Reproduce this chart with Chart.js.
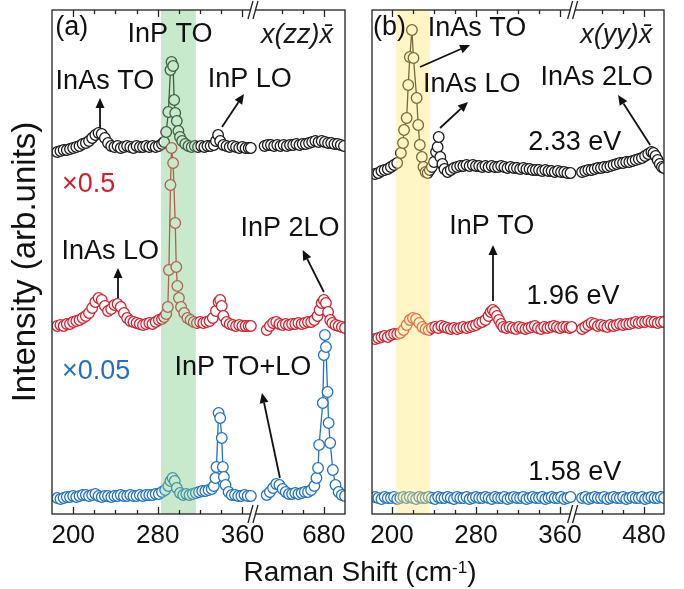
<!DOCTYPE html>
<html lang="en">
<head>
<meta charset="UTF-8">
<title>Raman spectra</title>
<script src="https://cdn.jsdelivr.net/npm/chart.js"></script>
<style>
    html, body { margin: 0; padding: 0; background: #fff; }
    #fig { position: relative; width: 684px; height: 589px; font-family: 'Liberation Sans', Arial, sans-serif; overflow: hidden; }
    #fig canvas { position: absolute; top: 0; }
    #chartA { left: 0; }
    #chartB { left: 360px; }
    #xTitle { position: absolute; left: 0; width: 720px; top: 558px; text-align: center;
              font-size: 28px; line-height: 28px; color: #111; }
    #xTitle sup { font-size: 17px; line-height: 0; vertical-align: 0.5em; }
</style>
</head>
<body>
<div id="fig">
    <canvas id="chartA" width="360" height="589"></canvas>
    <canvas id="chartB" width="324" height="589"></canvas>
    <div id="xTitle">Raman Shift (cm<sup>-1</sup>)</div>
</div>

<script>
// x axes are broken: [last value before the break, first value after it]
const breakA = [370, 613];
const breakB = [372, 412];
const rangeA = [180, 700];
const rangeB = [181, 499];
const ticksA = [200, 220, 240, 260, 280, 300, 320, 340, 360, 640, 660, 680];
const ticksB = [200, 220, 240, 260, 280, 300, 320, 340, 360, 440, 460, 480];
const labelsA = [200, 280, 360, 680];
const labelsB = [200, 280, 360, 480];
const bandA = [283, 316];   // InP TO region
const bandB = [204, 236];   // InAs TO region

// (a) x(zz)x spectra, [Raman shift, intensity]
const aBlack = [[185,362],[188,363],[191,364],[194,364],[197,365],[200,366],[203,367],[206,368],[209,370],[212,371],[215,373],[218,376],[221,379],[224,381],[227,380],[230,376],[233,371],[236,368],[239,367],[242,368],[245,366],[248,367],[251,368],[254,367],[257,366],[260,368],[263,367],[266,367],[269,368],[272,367],[275,368],[278,367],[281,368],[284,370],[286,372],[288,382],[290,402],[292,444],[293,452],[294.5,448],[295.5,414],[296.5,401],[298,393],[299.5,383],[301,377],[303,373],[306,370],[309,368],[312,367],[315,368],[318,367],[321,368],[324,367],[327,368],[330,368],[333,369],[335,373],[337,379],[339,373],[342,369],[345,368],[348,367],[351,368],[354,367],[357,366],[360,367],[363,366],[366,366],[368,366],
    [624,368],[627,369],[630,369],[633,368],[636,369],[639,368],[642,369],[645,368],[648,369],[651,369],[654,370],[657,369],[660,370],[663,370],[666,371],[669,372],[672,373],[675,372],[678,373],[681,372],[684,371],[687,371],[690,370],[693,370],[696,369],[699,368]];
const aRed = [[185,188],[188,189],[191,188],[194,190],[197,190],[200,192],[203,193],[206,194],[209,196],[212,198],[215,201],[218,206],[221,212],[224,216],[227,214],[230,208],[233,203],[236,205],[239,209],[242,210],[245,207],[248,201],[251,196],[254,193],[257,192],[260,191],[263,190],[266,189],[269,190],[272,191],[275,190],[278,192],[281,194],[284,195],[286,197],[288,200],[289.5,207],[290.5,244],[292,329],[293,366],[294.5,351],[296.5,291],[297.5,247],[298.5,228],[300,216],[302,207],[305,201],[308,196],[311,194],[314,192],[317,191],[320,192],[323,191],[326,192],[329,193],[332,196],[335,203],[337.5,212],[339,214],[340.5,208],[342,198],[345,192],[348,190],[351,189],[354,188],[357,189],[360,188],[363,188],[366,188],[368,188],
    [626,184],[629,188],[632,191],[635,192],[638,190],[641,189],[644,190],[647,189],[650,190],[653,190],[656,191],[659,190],[662,191],[665,192],[668,192],[671,194],[674,198],[676,204],[678,211],[680,214],[682,211],[684,202],[686,194],[688,191],[691,189],[694,188],[697,187],[700,186]];
const aBlue = [[185,16],[188,15],[191,16],[194,17],[197,17],[200,18],[203,17],[206,18],[209,19],[212,19],[215,18],[218,19],[221,20],[224,18],[227,17],[230,18],[233,18],[236,17],[239,18],[242,18],[245,19],[248,18],[251,18],[254,19],[257,18],[260,18],[263,19],[266,18],[269,19],[272,19],[275,19],[278,20],[281,20],[284,22],[287,24],[290,28],[292,33],[294,36],[296,33],[298,26],[301,21],[304,19],[307,20],[310,19],[313,20],[316,21],[319,22],[322,23],[325,23],[328,24],[331,25],[333,28],[334.5,36],[335.5,47],[337.5,101],[339,96],[340.5,76],[341.5,47],[342.5,37],[344,29],[347,22],[350,19],[353,19],[356,18],[359,18],[362,19],[365,18],[368,18],
    [626,19],[629,22],[632,26],[635,30],[638,29],[641,25],[644,22],[647,20],[650,20],[653,21],[656,20],[659,21],[662,22],[665,22],[668,24],[671,28],[673,36],[674.5,46],[675.5,69],[679,111],[680,159],[681,179],[682,167],[683.5,122],[684.5,91],[686,71],[688.5,44],[691,29],[694,22],[697,19],[700,18]];

// (b) x(yy)x spectra at three excitation energies
const bBlack = [[184,340],[187,341],[190,343],[193,344],[196,345],[199,347],[202,349],[205,351],[208.5,361],[210.5,371],[211.5,384],[214,396],[215.5,429],[217,457],[219,484],[220.5,456],[223.5,416],[225,389],[226.5,369],[228.5,357],[230,347],[232,342],[234,341],[236,344],[238,347],[240,352],[242,362],[243.5,367],[244.5,377],[246,357],[248,350],[250,345],[253,342],[256,344],[259,346],[262,347],[265,348],[268,348],[271,349],[274,348],[277,349],[280,348],[283,348],[286,347],[289,348],[292,347],[295,348],[298,347],[301,347],[304,348],[307,347],[310,346],[313,347],[316,346],[319,346],[322,345],[325,346],[328,345],[331,345],[334,344],[337,344],[340,344],[343,343],[346,344],[349,343],[352,343],[355,342],[358,343],[361,342],[364,342],[367,341],[370,341],
    [421,342],[424,343],[427,344],[430,344],[433,345],[436,346],[439,346],[442,347],[445,347],[448,348],[451,349],[454,350],[457,351],[460,351],[463,352],[466,352],[469,353],[472,354],[475,355],[478,356],[481,358],[484,360],[487,362],[489,361],[491,358],[493,354],[495,350],[497,347],[499,346]];
const bRed = [[184,175],[187,176],[190,177],[193,178],[196,177],[199,179],[202,180],[205,180],[208,181],[211,184],[214,189],[217,194],[220,196],[223,195],[226,191],[229,187],[232,185],[235,184],[238,186],[241,187],[244,186],[247,188],[250,187],[253,186],[256,185],[259,186],[262,185],[265,186],[268,187],[271,186],[274,187],[277,188],[280,189],[283,191],[286,192],[289,194],[292,198],[294,202],[296,204],[298,202],[300,198],[302,194],[304,190],[306,187],[309,186],[312,187],[315,186],[318,185],[321,187],[324,186],[327,185],[330,186],[333,187],[336,188],[339,186],[342,185],[345,187],[348,186],[351,187],[354,188],[357,187],[360,186],[363,187],[366,187],[369,186],[371,187],
    [421,185],[424,187],[427,189],[430,191],[433,190],[436,188],[439,189],[442,188],[445,187],[448,189],[451,188],[454,189],[457,190],[460,189],[463,190],[466,190],[469,191],[472,192],[475,191],[478,192],[481,192],[484,193],[487,192],[490,192],[493,191],[496,192],[499,192]];
const bBlue = [[184,17],[187,16],[190,15],[193,17],[196,16],[199,16],[202,17],[205,15],[208,16],[211,17],[214,16],[217,17],[220,16],[223,15],[226,17],[229,16],[232,16],[235,17],[238,16],[241,15],[244,17],[247,16],[250,16],[253,17],[256,16],[259,15],[262,17],[265,16],[268,16],[271,17],[274,15],[277,16],[280,17],[283,16],[286,16],[289,17],[292,16],[295,15],[298,17],[301,16],[304,16],[307,17],[310,15],[313,16],[316,17],[319,16],[322,16],[325,17],[328,15],[331,16],[334,17],[337,16],[340,16],[343,17],[346,15],[349,16],[352,17],[355,16],[358,16],[361,17],[364,15],[367,16],[370,17],
    [421,16],[424,17],[427,15],[430,16],[433,17],[436,16],[439,16],[442,17],[445,15],[448,16],[451,17],[454,16],[457,16],[460,17],[463,15],[466,16],[469,17],[472,16],[475,16],[478,17],[481,15],[484,16],[487,17],[490,16],[493,16],[496,17],[499,16]];

const BLACK = '#1a1a1a', RED = '#d21f2d', BLUE = '#2072c1';
const FONT = "'Liberation Sans', Arial, sans-serif";

// notes in data coordinates: [text, x, y, align, color, italic]
const notesA = [
    ['(a)', 183, 486, 'left'],
    ['InP TO', 291.5, 479],
    ['x(zz)x\u0304', 688.6, 479, 'right', BLACK, true],
    ['InAs TO', 230, 432],
    ['InP LO', 367, 434],
    ['\u00d70.5', 189.5, 329, 'left', RED],
    ['InAs LO', 235, 262],
    ['InP 2LO', 648, 285],
    ['\u00d70.05', 189.5, 142, 'left', BLUE],
    ['InP TO+LO', 360.5, 146]
];
const arrowsA = [
    [225.4, 386, 225.4, 416],
    [340.7, 387, 361.5, 420],
    [242.4, 216, 242.4, 246],
    [680, 222, 660, 264],
    [638.5, 36, 621.5, 121]
];
const notesB = [
    ['(b)', 182, 486, 'left'],
    ['InAs TO', 281, 485],
    ['x(yy)x\u0304', 487.7, 479, 'right', BLACK, true],
    ['InAs LO', 276, 429],
    ['InAs 2LO', 435, 436],
    ['2.33 eV', 414, 371],
    ['InP TO', 295, 287],
    ['1.96 eV', 412.4, 217],
    ['1.58 eV', 414, 41]
];
const arrowsB = [
    [226.7, 447, 274.3, 469],
    [245.8, 386, 272.4, 412],
    [485.8, 369, 455.3, 419],
    [296.2, 213, 296.2, 269]
];

function brokenAxis(brk) {
    const shift = brk[1] - brk[0];
    return {
        toU: r => r <= brk[0] ? r : r - shift,
        fromU: u => u <= brk[0] ? u : u + shift
    };
}

function series(pts, ax, brk) {
    const out = [];
    pts.forEach((p, i) => {
        if (i > 0 && pts[i - 1][0] <= brk[0] && p[0] >= brk[1]) out.push({x: brk[0], y: null});
        out.push({x: ax.toU(p[0]), y: p[1]});
    });
    return out;
}

function line(ctx, x0, y0, x1, y1) {
    ctx.beginPath(); ctx.moveTo(x0, y0); ctx.lineTo(x1, y1); ctx.stroke();
}

function arrow(ctx, x0, y0, x1, y1) {
    const a = Math.atan2(y1 - y0, x1 - x0), L = 10, W = 4.5;
    const bx = x1 - L * Math.cos(a), by = y1 - L * Math.sin(a);
    line(ctx, x0, y0, bx, by);
    ctx.beginPath();
    ctx.moveTo(x1, y1);
    ctx.lineTo(bx + W * Math.sin(a), by - W * Math.cos(a));
    ctx.lineTo(bx - W * Math.sin(a), by + W * Math.cos(a));
    ctx.closePath(); ctx.fill();
}

function decor(p, ax) {
    return {
        id: 'decor',
        afterDatasetsDraw(chart) {
            const {ctx, chartArea: ca, scales: {x, y}} = chart;
            const px = r => x.getPixelForValue(ax.toU(r));
            ctx.save();
            // highlighted region drawn over the data, like the original
            const b0 = px(p.band[0]), b1 = px(p.band[1]);
            ctx.fillStyle = p.bandColor;
            ctx.fillRect(b0, ca.top, b1 - b0, ca.bottom - ca.top);

            ctx.strokeStyle = '#222'; ctx.lineWidth = 1.3;
            ctx.strokeRect(ca.left, ca.top, ca.right - ca.left, ca.bottom - ca.top);
            x.ticks.forEach(t => {
                const xx = Math.round(x.getPixelForValue(t.value)) + 0.5;
                const len = t.label ? 7 : 4;
                line(ctx, xx, ca.bottom, xx, ca.bottom - len);
                line(ctx, xx, ca.top, xx, ca.top + len);
            });
            // axis break marks
            const bp = x.getPixelForValue(p.brk[0]);
            [ca.top, ca.bottom].forEach(yy => {
                ctx.fillStyle = '#fff';
                ctx.fillRect(bp - 2.5, yy - 2, 5, 4);
                line(ctx, bp - 5, yy + 9, bp, yy - 9);
                line(ctx, bp, yy + 9, bp + 5, yy - 9);
            });

            ctx.lineWidth = 1.8; ctx.strokeStyle = '#111'; ctx.fillStyle = '#111';
            p.arrows.forEach(a => arrow(ctx, px(a[0]), y.getPixelForValue(a[1]), px(a[2]), y.getPixelForValue(a[3])));

            ctx.textBaseline = 'middle';
            p.notes.forEach(n => {
                ctx.font = (n[5] ? 'italic ' : '') + '27px ' + FONT;
                ctx.fillStyle = n[4] || '#111';
                ctx.textAlign = n[3] || 'center';
                ctx.fillText(n[0], px(n[1]), y.getPixelForValue(n[2]));
            });
            ctx.restore();
        }
    };
}

function panel(id, p) {
    const ax = brokenAxis(p.brk);
    const style = c => ({
        borderColor: c, borderWidth: 1.3, pointRadius: 5.3, pointBorderWidth: 1.3,
        pointBackgroundColor: '#fff', pointBorderColor: c, tension: 0, fill: false
    });
    new Chart(document.getElementById(id), {
        type: 'line',
        data: {
            datasets: [
                {label: p.names[2], data: series(p.blue, ax, p.brk), ...style(BLUE)},
                {label: p.names[1], data: series(p.red, ax, p.brk), ...style(RED)},
                {label: p.names[0], data: series(p.black, ax, p.brk), ...style(BLACK)}
            ]
        },
        options: {
            responsive: false,
            animation: false,
            devicePixelRatio: 1,
            layout: { padding: p.padding },
            plugins: { legend: { display: false }, tooltip: { enabled: false } },
            scales: {
                x: {
                    type: 'linear',
                    min: ax.toU(p.range[0]), max: ax.toU(p.range[1]),
                    grid: { display: false, drawTicks: false }, border: { display: false },
                    afterBuildTicks: s => { s.ticks = p.ticks.map(r => ({value: ax.toU(r)})); },
                    ticks: {
                        autoSkip: false, maxRotation: 0, padding: 6.4, color: '#111',
                        font: { family: FONT, size: 26 },
                        callback: v => {
                            const r = Math.round(ax.fromU(v));
                            return p.labels.includes(r) ? String(r) : '';
                        }
                    }
                },
                y: {
                    min: 0, max: 504,
                    display: p.yTitle ? true : false,
                    grid: { display: false, drawTicks: false }, border: { display: false },
                    ticks: { display: false },
                    title: {
                        display: !!p.yTitle, text: p.yTitle, color: '#111',
                        font: { family: FONT, size: 33 },
                        padding: { top: 1, bottom: 6.4 }
                    }
                }
            }
        },
        plugins: [decor(p, ax)]
    });
}

panel('chartA', {
    brk: breakA, range: rangeA, ticks: ticksA, labels: labelsA,
    band: bandA, bandColor: 'rgba(120, 200, 130, 0.4)',
    black: aBlack, red: aRed, blue: aBlue, names: ['x1', 'x0.5', 'x0.05'],
    notes: notesA, arrows: arrowsA,
    yTitle: 'Intensity (arb.units)',
    padding: { left: 5, right: 15, top: 10, bottom: 31 }
});
panel('chartB', {
    brk: breakB, range: rangeB, ticks: ticksB, labels: labelsB,
    band: bandB, bandColor: 'rgba(255, 230, 110, 0.4)',
    black: bBlack, red: bRed, blue: bBlue, names: ['2.33 eV', '1.96 eV', '1.58 eV'],
    notes: notesB, arrows: arrowsB,
    yTitle: '',
    padding: { left: 12, right: 20, top: 10, bottom: 31 }
});
</script>
</body>
</html>
